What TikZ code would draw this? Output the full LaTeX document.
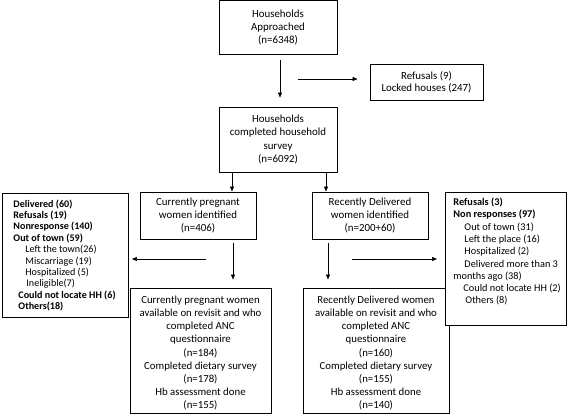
\documentclass[tikz,border=0pt]{standalone}
\usepackage{fontspec}
\setmainfont{Carlito}
\usetikzlibrary{arrows.meta,shadows}
\begin{document}
\begin{tikzpicture}[x=1pt,y=-1pt,
  boxline/.style={draw, line width=0.9pt, fill=white,
    drop shadow={shadow xshift=0.9pt, shadow yshift=-0.9pt, fill=black, opacity=0.35}},
  mainbox/.style={boxline, inner sep=0pt, align=center,
    font=\fontsize{10.9}{13.3}\selectfont},
  lowbox/.style={boxline, inner sep=0pt, align=center,
    font=\fontsize{10.8}{13.2}\selectfont},
  sidebox/.style={boxline, anchor=north west},
  arr/.style={-{Triangle[length=5pt,width=4pt]}, line width=0.6pt}]
\useasboundingbox (0,0) rectangle (567,417);
\fill[white] (0,0) rectangle (567,417);

% main column
\node[mainbox, minimum width=118pt, minimum height=53.4pt] (appr) at (278,27.3)
  {Households\\Approached\\(n=6348)};
\node[mainbox, minimum width=113pt, minimum height=36pt, font=\fontsize{10.9}{12.2}\selectfont] (ref) at (426.5,82)
  {Refusals (9)\\Locked houses (247)};
\node[mainbox, minimum width=118pt, minimum height=65pt] (hh) at (278,139.5)
  {Households\\completed household\\survey\\(n=6092)};
\node[mainbox, minimum width=116pt, minimum height=47pt] (preg) at (198,215.5)
  {Currently pregnant\\women identified\\(n=406)};
\node[mainbox, minimum width=116pt, minimum height=47pt] (rec) at (370,215.5)
  {Recently Delivered\\women identified\\(n=200+60)};
\node[lowbox, minimum width=141pt, minimum height=125pt] (pregdone) at (200.5,350.5)
  {\rule{0pt}{12.5pt}Currently pregnant women\\available on revisit and who\\completed ANC\\questionnaire\\(n=184)\\Completed dietary survey\\(n=178)\\Hb assessment done\\(n=155)};
\node[lowbox, minimum width=146pt, minimum height=125pt] (recdone) at (376,350.5)
  {\rule{0pt}{12.5pt}Recently Delivered women\\available on revisit and who\\completed ANC\\questionnaire\\(n=160)\\Completed dietary survey\\(n=155)\\Hb assessment done\\(n=140)};

% side boxes
\node[sidebox, inner xsep=11pt, inner ysep=0pt, minimum width=126pt, minimum height=124pt] (lost) at (2,193)
  {\parbox{104pt}{\fontsize{10.1}{11.4}\selectfont\raggedright
  \mbox{\bfseries Delivered (60)}\\
  \mbox{\bfseries Refusals (19)}\\
  \mbox{\bfseries Nonresponse (140)}\\
  \mbox{\bfseries Out of town (59)}\\
  \mbox{\hspace*{12pt}Left the town(26)}\\
  \mbox{\hspace*{12pt}Miscarriage (19)}\\
  \mbox{\hspace*{12pt}Hospitalized (5)}\\
  \mbox{\hspace*{13pt}Ineligible(7)}\\
  \mbox{\bfseries\hspace*{5pt}Could not locate HH (6)}\\
  \mbox{\bfseries\hspace*{5pt}Others(18)}}};
\node[sidebox, inner xsep=8pt, inner ysep=5.5pt] (lostr) at (445,192)
  {\parbox[t][122pt][t]{105pt}{\fontsize{10.3}{12.3}\selectfont\raggedright
  \mbox{\bfseries Refusals (3)}\\
  \mbox{\bfseries Non responses (97)}\\
  \mbox{\hspace*{11pt}Out of town (31)}\\
  \mbox{\hspace*{11pt}Left the place (16)}\\
  \mbox{\hspace*{11pt}Hospitalized (2)}\\
  \mbox{\hspace*{11pt}Delivered more than 3}\\
  \mbox{months ago (38)}\\
  \mbox{\hspace*{10pt}Could not locate HH (2)}\\
  \mbox{\hspace*{12pt}Others (8)}}};

% helper coordinates for connector positions
\coordinate (xa) at (280,0);
\coordinate (ya) at (298,79);
\coordinate (xl) at (232,0);
\coordinate (xr) at (326,0);
\coordinate (xld) at (233,0);
\coordinate (xrd) at (328,0);
\coordinate (yl) at (206,259);
\coordinate (yr) at (352,259);

% connectors
\draw[arr, shorten <=6pt, shorten >=9pt] (appr.south -| xa) -- (hh.north -| xa);
\draw[arr, shorten >=12pt] (ya) -- (ref.west |- ya);
\draw[arr] (hh.south -| xl) -- (preg.north -| xl);
\draw[arr] (hh.south -| xr) -- (rec.north -| xr);
\draw[arr, shorten <=4pt, shorten >=8pt] (preg.south -| xld) -- (pregdone.north -| xld);
\draw[arr, shorten <=4pt, shorten >=8pt] (rec.south -| xrd) -- (recdone.north -| xrd);
\draw[arr, shorten >=3pt] (yl) -- (lost.east |- yl);
\draw[arr, shorten >=8pt] (yr) -- (lostr.west |- yr);
\end{tikzpicture}
\end{document}
